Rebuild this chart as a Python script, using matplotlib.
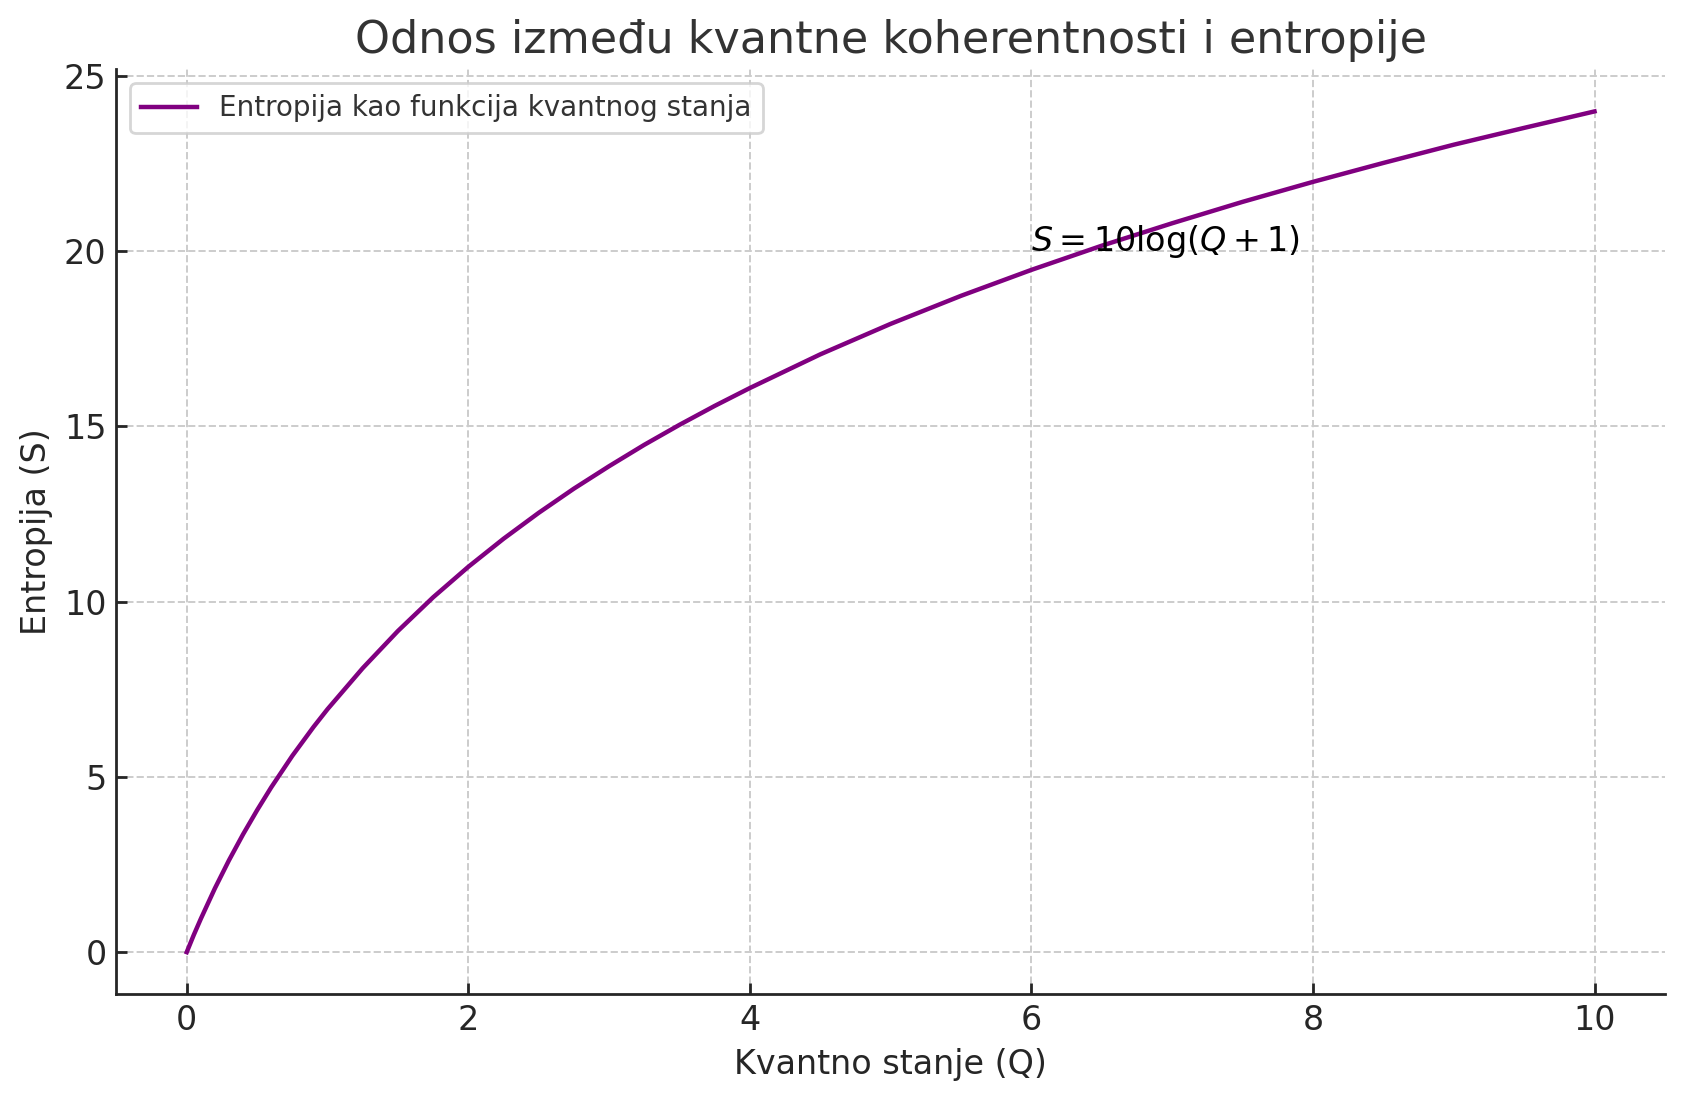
import numpy as np
import matplotlib.pyplot as plt

# values
q = [0, 0.05, 0.1, 0.2, 0.3, 0.4, 0.5, 0.6, 0.75, 0.9, 1, 1.25, 1.5,
     1.75, 2, 2.25, 2.5, 2.75, 3, 3.25, 3.5, 3.75, 4, 4.5, 5, 5.5, 6,
     6.5, 7, 7.5, 8, 8.5, 9, 9.5, 10]
s = [0, 0.49, 0.95, 1.82, 2.62, 3.36, 4.05, 4.7, 5.6, 6.42, 6.93, 8.1,
     9.16, 10.12, 10.99, 11.79, 12.53, 13.22, 13.86, 14.47, 15.04, 15.58,
     16.09, 17.05, 17.92, 18.72, 19.46, 20.15, 20.79, 21.4, 21.97, 22.51,
     23.03, 23.51, 23.98]

title = "Odnos između kvantne koherentnosti i entropije"
xlabel = "Kvantno stanje (Q)"
ylabel = "Entropija (S)"
legend_label = "Entropija kao funkcija kvantnog stanja"
formula = r"$S = 10 \log(Q + 1)$"

fig = plt.figure(figsize=(8.43, 5.505), dpi=200)
ax = fig.add_axes([0.069, 0.097, 0.9185, 0.84])

ax.plot(q, s, color="purple", lw=1.6, label=legend_label)
ax.text(6, 20, formula, fontsize=12, color="black")

ax.set_title(title, fontsize=16, color="#333333", pad=6)
ax.set_xlabel(xlabel, fontsize=12, color="#262626")
ax.set_ylabel(ylabel, fontsize=12, color="#262626")

ax.grid(True, linestyle="--", color="#cccccc", lw=0.7)
ax.set_axisbelow(True)
for side in ["top", "right"]:
    ax.spines[side].set_visible(False)
for side in ["left", "bottom"]:
    ax.spines[side].set_color("#262626")
    ax.spines[side].set_linewidth(1.0)
ax.tick_params(direction="in", length=4, width=1, colors="#262626", labelsize=12)
ax.set_xticks([0, 2, 4, 6, 8, 10])
ax.set_yticks([0, 5, 10, 15, 20, 25])

leg = ax.legend(loc="upper left", fontsize=10, frameon=True, fancybox=True)
leg.get_frame().set_edgecolor("#cccccc")
for t in leg.get_texts():
    t.set_color("#333333")

fig.savefig("out.png", dpi=200)
